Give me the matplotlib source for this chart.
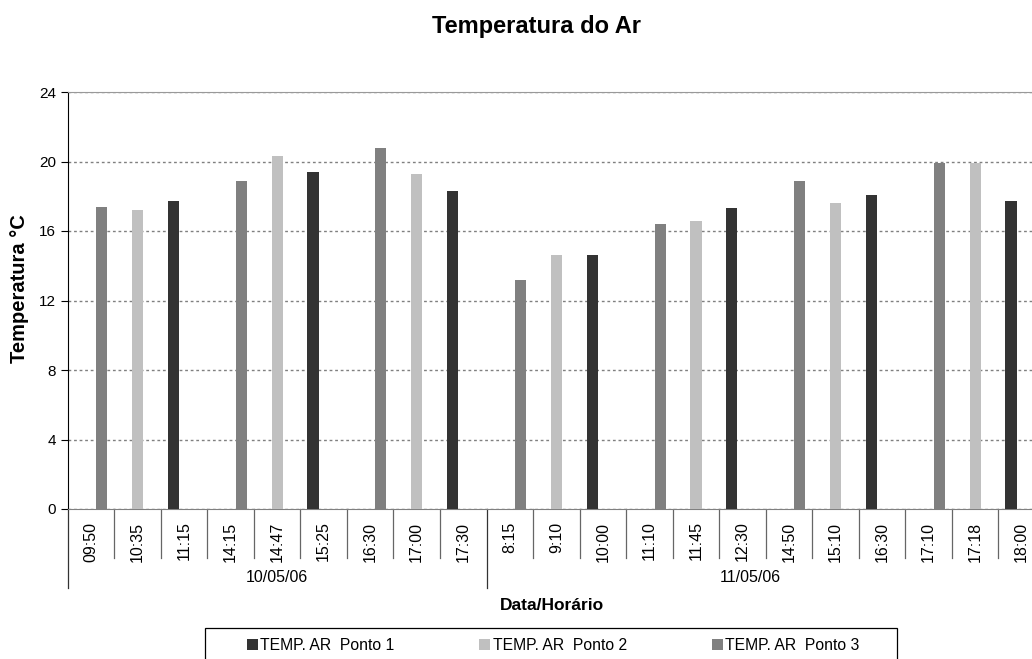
import numpy as np
import matplotlib.pyplot as plt
from matplotlib.patches import Patch, Rectangle
import matplotlib.transforms as mtransforms

plt.rcParams['font.family'] = ['Liberation Sans', 'DejaVu Sans']

horarios = ["09:50", "10:35", "11:15", "14:15", "14:47", "15:25", "16:30", "17:00", "17:30",
            "8:15", "9:10", "10:00", "11:10", "11:45", "12:30", "14:50", "15:10", "16:30",
            "17:10", "17:18", "18:00"]
datas = ["10/05/06", "11/05/06"]
n_dia = [9, 12]

nan = np.nan
ponto1 = [nan, nan, 17.7, nan, nan, 19.4, nan, nan, 18.3,
          nan, nan, 14.6, nan, nan, 17.3, nan, nan, 18.1, nan, nan, 17.7]
ponto2 = [nan, 17.2, nan, nan, 20.3, nan, nan, 19.3, nan,
          nan, 14.6, nan, nan, 16.6, nan, nan, 17.6, nan, nan, 19.9, nan]
ponto3 = [17.4, nan, nan, 18.9, nan, nan, 20.8, nan, nan,
          13.2, nan, nan, 16.4, nan, nan, 18.9, nan, nan, 19.9, nan, nan]
series = ["TEMP. AR  Ponto 1", "TEMP. AR  Ponto 2", "TEMP. AR  Ponto 3"]
cores = ["#333333", "#c0c0c0", "#808080"]

W, H = 1032, 659
fig = plt.figure(figsize=(W / 100, H / 100), dpi=100)
ax = fig.add_axes([67.7 / W, 150 / H, (1045 - 67.7) / W, 417 / H])

x = np.arange(len(horarios))
w = 0.24
for vals, off, c in zip([ponto1, ponto2, ponto3], [-0.23, 0, 0.23], cores):
    ax.bar(x + off, vals, w, color=c, zorder=3)

ax.set_xlim(-0.5, len(horarios) - 0.5)
ax.set_ylim(0, 24)
ax.set_yticks(range(0, 25, 4))
ax.yaxis.grid(True, linestyle=(0, (2, 2)), color="#808080", linewidth=1)
ax.tick_params(axis='y', labelsize=11, length=5, color='black', direction='out')
ax.set_xticks(x)
ax.set_xticklabels(horarios, rotation=90, fontsize=11.5, va='top')
ax.tick_params(axis='x', length=0, pad=9)

ax.spines['right'].set_visible(False)
ax.spines['top'].set_color('#999999')
ax.spines['bottom'].set_color('#808080')
ax.spines['left'].set_color('black')

# separadores de categoria e grupos
trans = mtransforms.blended_transform_factory(ax.transData, ax.transAxes)
limites = np.cumsum([0] + n_dia)
for i in range(len(horarios) + 1):
    grupo = i in limites
    y0 = -0.1894 if grupo else -0.1175
    ax.plot([i - 0.5, i - 0.5], [0, y0], color='#333333' if grupo else '#666666',
            lw=0.9, transform=trans, clip_on=False)
centros = [4, 14.16]
for d, cx in zip(datas, centros):
    ax.text(cx, -0.164, d, transform=trans, ha='center', va='center', fontsize=11.5)

fig.text(536 / W, 1 - 26 / H, "Temperatura do Ar", ha='center', va='center',
         fontsize=17, fontweight='bold')
fig.text(552 / W, 1 - 606 / H, "Data/Horário", ha='center', va='center',
         fontsize=12.5, fontweight='bold')
fig.text(20 / W, 1 - 289 / H, "Temperatura °C", ha='center', va='center',
         rotation=90, fontsize=14.5, fontweight='bold')

# legenda
fig.patches.append(Rectangle((205 / W, -0.02), (897 - 205) / W, 0.02 + 31 / H,
                             transform=fig.transFigure, facecolor='white',
                             edgecolor='black', linewidth=0.9))
handles = [Patch(facecolor=c, edgecolor='none') for c in cores]
leg = fig.legend(handles, series, loc='center left', bbox_to_anchor=(247 / W, 1 - 645 / H),
                 ncol=3, fontsize=11.3, frameon=False,
                 handlelength=0.7, handleheight=0.7, handletextpad=0.15,
                 columnspacing=5.4, borderpad=0, borderaxespad=0)

fig.savefig("out.png", dpi=100)
